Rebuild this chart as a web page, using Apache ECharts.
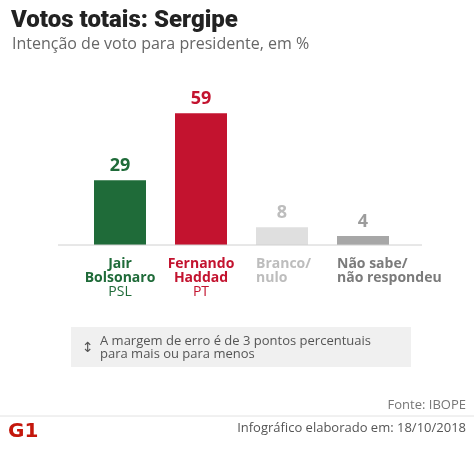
<!DOCTYPE html>
<html>
<head>
<meta charset="utf-8">
<script src="https://cdn.jsdelivr.net/npm/echarts@6/dist/echarts.min.js"></script>
<style>
html,body{margin:0;padding:0;background:#fff;}
#chart{width:474px;height:453px;}
</style>
</head>
<body>
<div id="chart"></div>
<script>
// Data
const names = ['Jair\nBolsonaro', 'Fernando\nHaddad', 'Branco/\nnulo', 'Não sabe/\nnão respondeu'];
const parties = ['PSL', 'PT', '', ''];
const values = [29, 59, 8, 4];
const barColors = ['#1f6b39', '#c3132f', '#dfdfdf', '#a7a7a7'];
const valueColors = ['#1f6b39', '#c3132f', '#bdbdbd', '#9c9c9c'];
const nameColors = ['#1f6b39', '#c3132f', '#bdbdbd', '#7b7b7b'];
const leftAligned = [false, false, true, true];

const chart = echarts.init(document.getElementById('chart'), null, {renderer: 'canvas'});
const FONT = '"Open Sans", sans-serif';

const rich = {};
names.forEach((n, i) => {
  rich['n' + i] = {
    color: nameColors[i], fontWeight: 'bold', fontSize: 14, fontFamily: FONT, lineHeight: 14,
    width: leftAligned[i] ? 52 : undefined, align: leftAligned[i] ? 'left' : 'center'
  };
  rich['p' + i] = {
    color: nameColors[i], fontWeight: 'normal', fontSize: 14, fontFamily: FONT, lineHeight: 14, align: 'center'
  };
});

const option = {
  animation: false,
  backgroundColor: '#fff',
  title: [{
    text: 'Votos totais: Sergipe',
    left: 11, top: 9, padding: 0,
    textStyle: {fontFamily: 'Roboto, sans-serif', fontWeight: 900, fontSize: 24, color: '#222'}
  }, {
    text: 'Intenção de voto para presidente, em %',
    left: 12, top: 36, padding: 0,
    textStyle: {fontFamily: FONT, fontWeight: 'normal', fontSize: 16, color: '#666'}
  }],
  grid: {left: 79.5, right: 474 - 403.5, top: 111, height: 134, containLabel: false},
  xAxis: {
    type: 'category',
    data: names,
    axisLine: {show: false},
    axisTick: {show: false},
    axisLabel: {
      margin: 12,
      interval: 0,
      formatter: function (v, i) {
        const lines = v.split('\n').map(l => '{n' + i + '|' + l + '}');
        if (parties[i]) lines.push('{p' + i + '|' + parties[i] + '}');
        return lines.join('\n');
      },
      rich: rich
    }
  },
  yAxis: {
    type: 'value', min: 0, max: 60,
    show: false
  },
  series: [{
    type: 'bar',
    barWidth: 52,
    data: values.map((v, i) => ({
      value: v,
      itemStyle: {color: barColors[i]},
      label: {color: valueColors[i]}
    })),
    label: {
      show: true, position: 'top', distance: 5,
      fontFamily: FONT, fontWeight: 'bold', fontSize: 18
    }
  }],
  graphic: [
    {type: 'line', shape: {x1: 58, y1: 245, x2: 422, y2: 245}, style: {stroke: '#d0d0d0', lineWidth: 1}, z: 10},
    {type: 'rect', shape: {x: 71, y: 327, width: 340, height: 40}, style: {fill: '#f0f0f0'}},
    {type: 'text', x: 82, y: 348, style: {text: '↕', font: '14px "DejaVu Sans"', fill: '#555', textVerticalAlign: 'middle'}},
    {type: 'text', x: 100, y: 335, style: {text: 'A margem de erro é de 3 pontos percentuais\npara mais ou para menos', font: '13px "Open Sans"', fill: '#555', lineHeight: 13}},
    {type: 'text', right: 8, top: 399, style: {text: 'Fonte: IBOPE', font: '13px "Open Sans"', fill: '#777'}},
    {type: 'line', shape: {x1: 0, y1: 416, x2: 474, y2: 416}, style: {stroke: '#e2e2e2', lineWidth: 1}},
    {type: 'text', right: 8, top: 422, style: {text: 'Infográfico elaborado em: 18/10/2018', font: '13px "Open Sans"', fill: '#555'}},
    {type: 'text', left: 8, top: 422, style: {text: 'G1', font: '900 20px "DejaVu Sans"', fill: '#c4170c'}}
  ]
};
chart.setOption(option);
</script>
</body>
</html>
